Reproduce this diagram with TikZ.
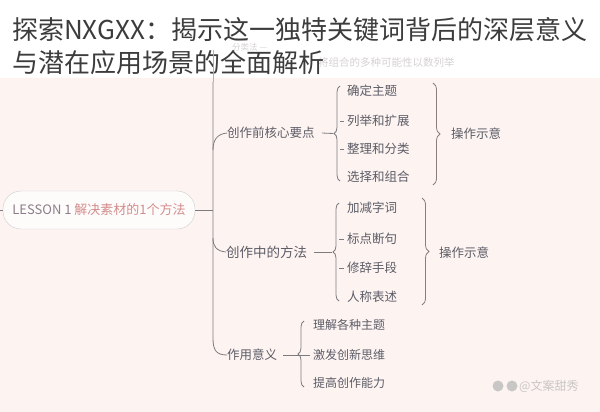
\documentclass[tikz,border=0pt]{standalone}
\usepackage{fontspec}
\setmainfont{Noto Sans CJK SC}
\usetikzlibrary{decorations.pathreplacing}
\definecolor{bgpink}{HTML}{FDF4F2}
\definecolor{titlec}{HTML}{3C3C3C}
\definecolor{linec}{HTML}{7C7C80}
\definecolor{leafc}{HTML}{5C5C66}
\definecolor{rootred}{HTML}{D38C8C}
\definecolor{rootgray}{HTML}{8C7E8A}
\definecolor{fadec}{HTML}{D6D2D2}
\definecolor{bracer}{HTML}{8E7C7C}
\definecolor{wmc}{HTML}{C9C6C6}
\begin{document}
\begin{tikzpicture}[x=1pt,y=-1pt,
  titletext/.style={anchor=west,inner sep=0pt,text=titlec,font=\fontsize{26}{30}\selectfont},
  midtext/.style={anchor=west,inner sep=0pt,text=leafc,font=\fontsize{12.5}{14}\selectfont},
  leaftext/.style={anchor=west,inner sep=0pt,text=leafc,font=\fontsize{12.5}{14}\selectfont},
  conn/.style={draw=linec,line width=0.8pt},
  lbrace/.style={draw=linec,line width=0.8pt,decorate,decoration={brace,amplitude=6pt}},
  rbrace/.style={draw=bracer,line width=0.8pt,decorate,decoration={brace,amplitude=7pt}},
  fadetext/.style={anchor=west,inner sep=0pt,text=fadec,font=\fontsize{8.5}{10}\selectfont}]
\fill[bgpink] (0,0) rectangle (600,412);
\fill[white] (0,0) rectangle (600,78);
\useasboundingbox (0,0) rectangle (600,412);

% faded background text behind the title
\node[fadetext] (f1) at (232,47) {分类法 —};
\node[fadetext,font=\fontsize{10.5}{12}\selectfont] (f2) at (318,63) {将组合的多种可能性以数列举};

% title
\node[titletext] (t1) at (12,30) {探索NXGXX：揭示这一独特关键词背后的深层意义};
\node[titletext] (t2) at (12,63) {与潜在应用场景的全面解析};

% root
\node[draw=black!20,fill=white!70!bgpink,rounded corners=18pt,minimum width=192pt,minimum height=38pt,
      inner sep=0pt,font=\fontsize{13}{15}\selectfont] (root) at (99,210)
      {\textcolor{rootgray}{LESSON 1} \textcolor{rootred}{解决素材的1个方法}};
\coordinate (lstub) at (0,210);
\draw[conn] (lstub) -- (root.west);

% trunk
\coordinate (ttop) at (213,82);
\coordinate (tj) at (213,210);
\coordinate (tbot) at (213,338);
\draw[conn,draw=linec!60] (213,50) -- (ttop);
\draw[conn] (root.east) -- (tj);

% mid nodes
\node[midtext] (m1) at (227,133) {创作前核心要点};
\node[midtext,font=\fontsize{13.5}{15}\selectfont] (m2) at (226,252) {创作中的方法};
\node[midtext] (m3) at (227,355) {作用意义};

\draw[conn] (ttop) -- (tbot) .. controls (213,350) and (216,355) .. (m3.west);
\draw[conn] (213,150) .. controls (213,140) and (217,134) .. (m1.west);
\draw[conn] (213,238) .. controls (213,246) and (216,251) .. (m2.west);

% group 1 leaves
\node[leaftext] (a1) at (347,91) {确定主题};
\node[leaftext] (a2) at (347,121) {列举和扩展};
\node[leaftext] (a3) at (347,149) {整理和分类};
\node[leaftext] (a4) at (347,177) {选择和组合};
\draw[lbrace] (340,181) -- (340,86);
\coordinate (tip1) at (333,133.5);
\draw[conn] ([xshift=7pt]m1.east) -- (tip1);
\draw[conn] (340,121) -- ([xshift=-3pt]a2.west);
\draw[conn] (340,149) -- ([xshift=-3pt]a3.west);
\draw[rbrace] (433,83) -- (433,185);
\node[midtext] (op1) at (451,134) {操作示意};

% group 2 leaves
\node[leaftext] (b1) at (347,208) {加减字词};
\node[leaftext] (b2) at (347,239) {标点断句};
\node[leaftext] (b3) at (347,268) {修辞手段};
\node[leaftext] (b4) at (347,297) {人称表述};
\draw[lbrace] (339,301) -- (339,203);
\coordinate (tip2) at (332,252);
\draw[conn] ([xshift=7pt]m2.east) -- (tip2);
\draw[conn] (339,239) -- ([xshift=-3pt]b2.west);
\draw[conn] (339,268) -- ([xshift=-3pt]b3.west);
\draw[rbrace] (422,198) -- (422,305);
\node[midtext] (op2) at (439,253) {操作示意};

% group 3 leaves
\node[leaftext,font=\fontsize{12}{14}\selectfont] (c1) at (313,325) {理解各种主题};
\node[leaftext,font=\fontsize{12}{14}\selectfont] (c2) at (313,355) {激发创新思维};
\node[leaftext,font=\fontsize{12}{14}\selectfont] (c3) at (313,383) {提高创作能力};
\draw[lbrace] (304,387) -- (304,321);
\draw[conn] ([xshift=6pt]m3.east) -- ([xshift=-3pt]c2.west);

% watermark
\node[circle,fill=wmc,minimum size=11pt,inner sep=0pt] (w1) at (498,386) {};
\node[circle,fill=wmc,minimum size=11pt,inner sep=0pt] (w2) at (512,386) {};
\node[anchor=west,inner sep=0pt,text=wmc,font=\fontsize{12}{14}\selectfont] (w3) at (519,386) {@文案甜秀};
\end{tikzpicture}
\end{document}
